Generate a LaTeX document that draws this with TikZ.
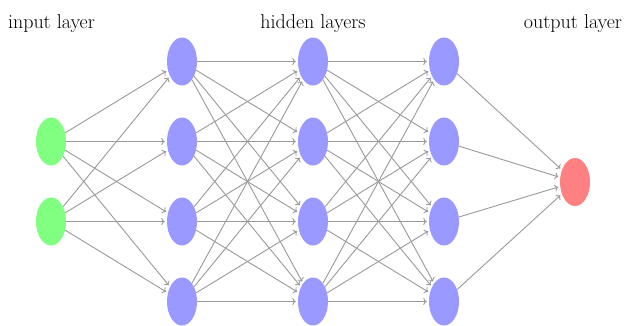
\documentclass[tikz,border=0pt]{standalone}
\usetikzlibrary{shapes.geometric,arrows.meta}
\begin{document}
\begin{tikzpicture}[x=1pt,y=-1pt,
  neuron/.style={ellipse,draw=none,minimum width=30pt,minimum height=48pt,inner sep=0pt},
  innode/.style={neuron,fill=green!50},
  hidnode/.style={neuron,fill=blue!40},
  outnode/.style={neuron,fill=red!50},
  edge/.style={draw=black!40,line width=0.9pt,-{To[length=3.5pt,width=7pt]},shorten >=2pt},
  lbl/.style={font=\fontsize{20}{24}\selectfont,inner sep=0pt,anchor=base}]
\useasboundingbox (0,0) rectangle (625,325);
\node[innode] (I-1) at (51,141.5) {};
\node[innode] (I-2) at (51,221.5) {};
\foreach \l/\x in {1/182,2/313,3/444}{
  \foreach \i in {1,...,4}{
    \node[hidnode] (H\l-\i) at (\x,{61.5+80*(\i-1)}) {};
  }
}
\node[outnode] (O) at (575,182) {};
\foreach \s in {1,2}{\foreach \t in {1,...,4}{\draw[edge] (I-\s) -- (H1-\t);}}
\foreach \s in {1,...,4}{\foreach \t in {1,...,4}{
  \draw[edge] (H1-\s) -- (H2-\t);
  \draw[edge] (H2-\s) -- (H3-\t);}}
\foreach \s in {1,...,4}{\draw[edge] (H3-\s) -- (O);}
\node[lbl] (t1) at (51.5,28) {input layer};
\node[lbl] (t2) at (313,28) {hidden layers};
\node[lbl] (t3) at (573,28) {output layer};
\end{tikzpicture}
\end{document}
